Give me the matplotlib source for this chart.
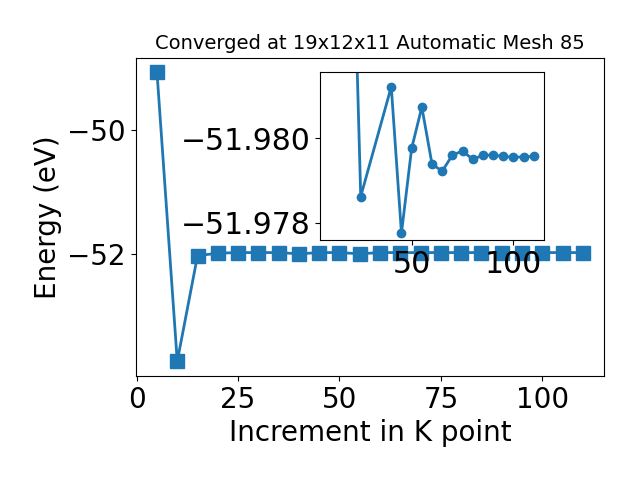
import matplotlib
matplotlib.use("Agg")
from matplotlib import pyplot as plt

# main convergence data
kpoints = [5, 10, 15, 20, 25, 30, 35, 40, 45, 50, 55, 60, 65, 70, 75, 80, 85, 90, 95, 100, 105, 110]
energy = [-49.06, -53.74, -52.03, -51.99, -51.98, -51.98, -51.98, -52.00, -51.98, -51.98, -52.00,
          -51.98, -51.98, -51.98, -51.98, -51.98, -51.98, -51.98, -51.98, -51.98, -51.98, -51.98]

# zoomed data for the inset
inset_k = [10, 15, 20, 25, 40, 45, 50, 55, 60, 65, 70, 75, 80, 85, 90, 95, 100, 105, 110]
inset_energy = [-53.74, -52.03, -51.98731, -51.97862, -51.98122, -51.97775, -51.97976, -51.98074,
                -51.97939, -51.97922, -51.97960, -51.97970, -51.97950, -51.97960, -51.97960,
                -51.97957, -51.97955, -51.97956, -51.97957]

plt.rcParams['font.size'] = 20

fig = plt.figure(figsize=(6.4, 4.8), dpi=100)
ax = fig.add_subplot(111)
ax.plot(kpoints, energy, marker='s', markersize=10, linewidth=2)
ax.set_title("Converged at 19x12x11 Automatic Mesh 85", fontsize=14)
ax.set_xlabel("Increment in K point")
ax.set_ylabel("Energy (eV)")
ax.set_yticks([-50, -52])
fig.subplots_adjust(left=0.212, right=0.944, bottom=0.217, top=0.88)

ins = fig.add_axes([0.5, 0.5, 0.35, 0.35])
ins.plot(inset_k, inset_energy, marker='o', markersize=6, linewidth=2)
ins.set_ylim(-51.97759, -51.98157)
ins.set_yticks([-51.980, -51.978])
ins.set_xticks([50, 100])
ins.ticklabel_format(axis='y', useOffset=False)
ins.tick_params(labelsize=21.5)

plt.savefig("out.png")
